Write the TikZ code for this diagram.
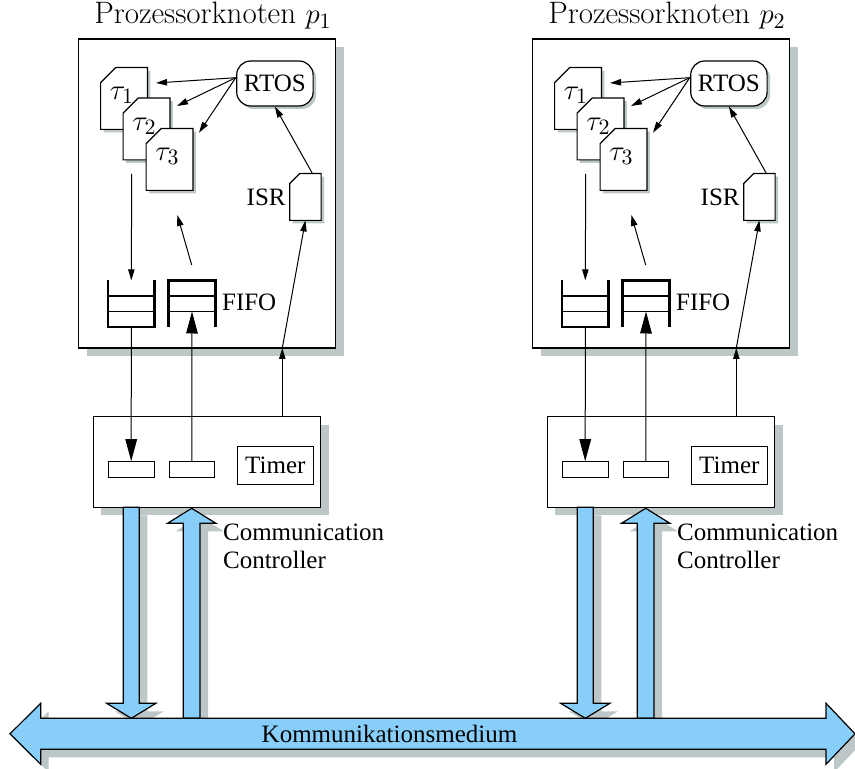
\documentclass[tikz,border=0pt]{standalone}
\usepackage{fontspec}
\setmainfont{Liberation Serif}
\newfontfamily\titlefont{Latin Modern Roman}
\usetikzlibrary{shadows,arrows.meta,calc}
\definecolor{busblue}{RGB}{135,206,250}
\definecolor{shadowgray}{RGB}{190,199,199}
% outline of a document symbol (top left corner cut off) around node #1, cut #2
\newcommand\docoutline[2]{%
  \path[docstyle] (#1.south west) -- ([yshift=-#2]#1.north west) -- ([xshift=#2]#1.north west)
    -- (#1.north east) -- (#1.south east) -- cycle;}
\begin{document}
\begin{tikzpicture}[x=0.5pt,y=-0.5pt,
  every node/.style={inner sep=0pt, font=\fontsize{12.5}{14}\selectfont},
  bigshadow/.style={general shadow={fill=shadowgray, shadow xshift=4pt, shadow yshift=-4pt}},
  smallshadow/.style={general shadow={fill=shadowgray, shadow xshift=1.5pt, shadow yshift=-1.5pt}},
  nodebox/.style={draw, line width=0.7pt, fill=white, bigshadow},
  docstyle/.style={draw, line width=0.6pt, fill=white, line join=miter, smallshadow},
  taskarea/.style={minimum width=23pt, minimum height=30.5pt},
  tasklabel/.style={font=\fontsize{15}{17}\selectfont, xshift=-1pt, yshift=1.5pt},
  israrea/.style={minimum width=15.3pt, minimum height=23pt},
  osbox/.style={draw, line width=0.6pt, fill=white, rounded corners=7pt, smallshadow,
    minimum width=38.2pt, minimum height=22.5pt},
  slot/.style={draw, line width=0.5pt, fill=white, minimum width=22.8pt, minimum height=7.8pt},
  queue/.style={line width=1.4pt, line join=miter},
  queuemid/.style={line width=0.9pt},
  arr/.style={line width=0.5pt, -{Triangle[length=5.5pt,width=3.2pt]}},
  bigarr/.style={line width=0.5pt, -{Triangle[length=11pt,width=5.8pt]}},
  blockarrow/.style={draw, line width=0.6pt, fill=busblue, line join=miter, bigshadow}
]
\useasboundingbox (0,0) rectangle (855,769);

\foreach \i/\dx in {1/0,2/454} {
\begin{scope}[xshift=\dx*0.5pt]
  % processor node
  \node[nodebox, minimum width=128.5pt, minimum height=154.5pt] (pk\i) at (207.2,193.5) {};
  \node[font=\titlefont\fontsize{15.5}{18}\selectfont, anchor=base] (title\i) at (213,24) {Prozessorknoten $p_{\i}$};

  % tasks
  \node[taskarea] (tA\i) at (124,98.5) {};
  \docoutline{tA\i}{7.5pt}
  \node[tasklabel] (tAt\i) at (tA\i.center) {$\tau_1$};
  \node[taskarea] (tB\i) at (146.5,129) {};
  \docoutline{tB\i}{7.5pt}
  \node[tasklabel] (tBt\i) at (tB\i.center) {$\tau_2$};
  \node[taskarea] (tC\i) at (169.5,159.5) {};
  \docoutline{tC\i}{7.5pt}
  \node[tasklabel] (tCt\i) at (tC\i.center) {$\tau_3$};

  % operating system and interrupt service routine
  \node[osbox] (rtos\i) at (274.9,83.5) {RTOS};
  \node[israrea] (isr\i) at (305.4,197) {};
  \docoutline{isr\i}{5pt}
  \node[anchor=east] (isrlabel\i) at (286,197) {ISR};

  % receive queue (open on top) and send FIFO (open at the bottom)
  \node[minimum width=23pt, minimum height=23pt] (rx\i) at (131.3,303.7) {};
  \node[minimum width=23pt, minimum height=23pt] (tx\i) at (192,303.7) {};
  \draw[queue] (rx\i.north west) -- (rx\i.south west) -- (rx\i.south east) -- (rx\i.north east);
  \draw[queuemid] ($(rx\i.north west)!1/3!(rx\i.south west)$) -- ($(rx\i.north east)!1/3!(rx\i.south east)$);
  \draw[queuemid] ($(rx\i.north west)!2/3!(rx\i.south west)$) -- ($(rx\i.north east)!2/3!(rx\i.south east)$);
  \draw[queue] (tx\i.south west) -- (tx\i.north west) -- (tx\i.north east) -- (tx\i.south east);
  \draw[queuemid] ($(tx\i.north west)!1/3!(tx\i.south west)$) -- ($(tx\i.north east)!1/3!(tx\i.south east)$);
  \draw[queuemid] ($(tx\i.north west)!2/3!(tx\i.south west)$) -- ($(tx\i.north east)!2/3!(tx\i.south east)$);
  \node[anchor=west] (fifolabel\i) at (221.7,302) {FIFO};

  % communication controller
  \node[nodebox, minimum width=113.7pt, minimum height=45.3pt] (cc\i) at (207,462) {};
  \node[slot] (sA\i) at (131.2,469.5) {};
  \node[slot] (sB\i) at (191.8,469.5) {};
  \node[draw, line width=0.6pt, minimum width=38pt, minimum height=18.7pt] (timer\i) at (275.3,465.4) {Timer};
  \node[anchor=west, align=left] (cclabel\i) at (222.7,546) {Communication\\Controller};

  % connectors inside the node
  \coordinate (rtosOut\i) at (235.7,77.7);
  \coordinate (toA\i) at (156,83);
  \coordinate (toB\i) at (177,106);
  \coordinate (toC\i) at (199,132.7);
  \draw[arr] (rtosOut\i) -- (toA\i);
  \draw[arr] (rtosOut\i) -- (toB\i);
  \draw[arr] (rtosOut\i) -- (toC\i);
  \coordinate (isrOut\i) at (312.7,174);
  \draw[arr] (isrOut\i) -- (rtos\i.south);
  \coordinate (tOut\i) at (131.7,174);
  \draw[arr] (tOut\i) -- (rx\i.north);
  \coordinate (fifoOut\i) at (191.7,265);
  \coordinate (tIn\i) at (177.3,215);
  \draw[arr] (fifoOut\i) -- (tIn\i);
  \coordinate (irq\i) at (282.3,348);
  \draw[arr] (irq\i) -- (isr\i.south);

  % connectors between node and controller
  \draw[bigarr] (rx\i.south) -- (sA\i.north);
  \draw[bigarr] (sB\i.north) -- ($(tx\i.north)!2/3!(tx\i.south)$);
  \draw[arr] (cc\i.north -| irq\i) -- (irq\i);

  % block arrows to and from the medium
  \path[blockarrow] (123.3,507.3) -- (123.3,703.3) -- (106.7,703.3) -- (131.3,718.3)
    -- (155.9,703.3) -- (139.3,703.3) -- (139.3,507.3) -- cycle;
  \path[blockarrow] (183.3,718.3) -- (183.3,523.3) -- (167.5,523.3) -- (191.7,508.3)
    -- (215.9,523.3) -- (200,523.3) -- (200,718.3) -- cycle;
\end{scope}
}

% communication medium
\path[blockarrow] (10,733.8) -- (40.7,703.3) -- (40.7,718.3) -- (826,718.3) -- (826,703.3)
  -- (855,733.8) -- (826,764.3) -- (826,749.3) -- (40.7,749.3) -- (40.7,764.3) -- cycle;
\node (buslabel) at (389.5,733.8) {Kommunikationsmedium};
\end{tikzpicture}
\end{document}
